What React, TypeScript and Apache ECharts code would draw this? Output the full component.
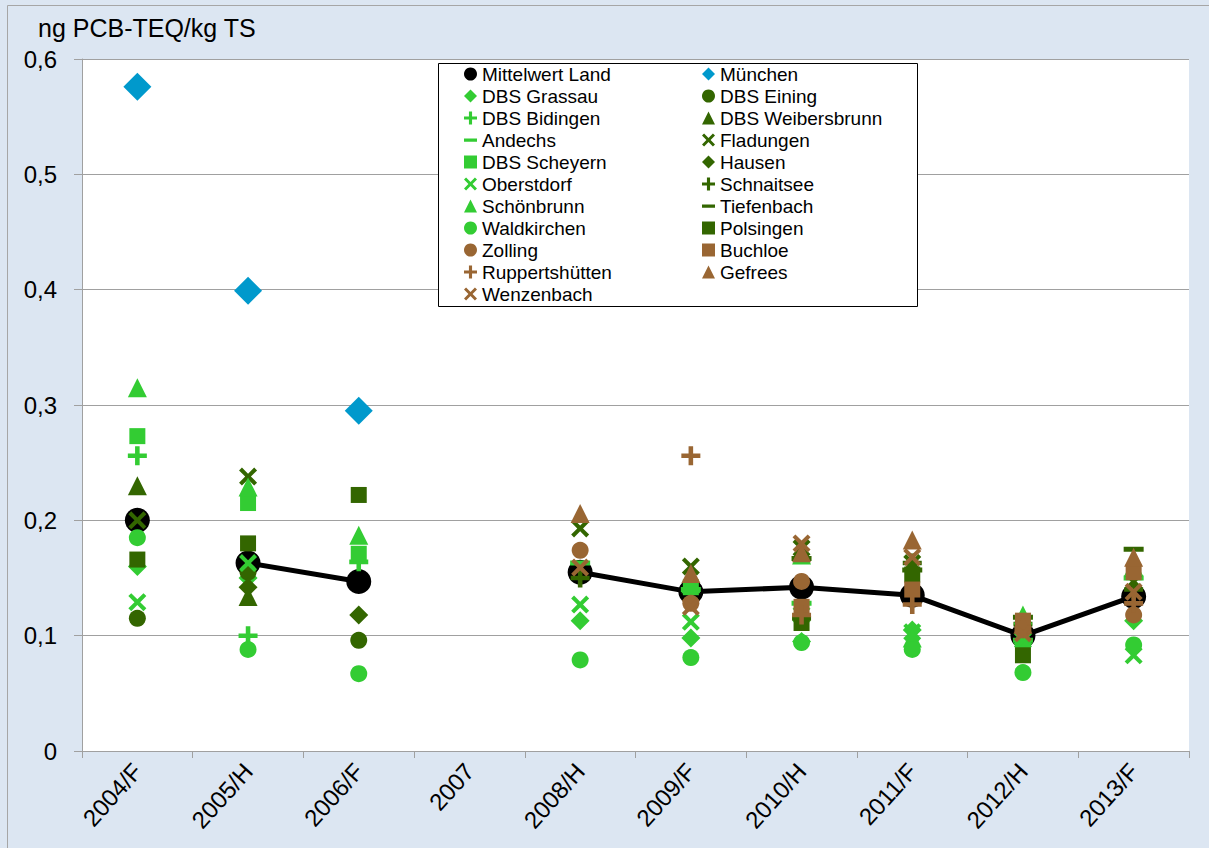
import React, { useEffect, useRef } from "react";
import * as echarts from "echarts";

const n = null;
const categories = ["2004/F", "2005/H", "2006/F", "2007", "2008/H", "2009/F", "2010/H", "2011/F", "2012/H", "2013/F"];
const yTicks = [0, 0.1, 0.2, 0.3, 0.4, 0.5, 0.6];

// values per category (index = category)
const mittelwertLand = [0.200, 0.163, 0.147, n, 0.155, 0.138, 0.142, 0.135, 0.100, 0.134];
const muenchen = [0.576, 0.399, 0.295, n, n, n, n, n, n, n];
const dbsGrassau = [0.160, 0.150, n, n, 0.113, 0.098, 0.095, 0.105, 0.093, 0.113];
const dbsEining = [0.115, 0.155, 0.096, n, n, n, n, n, n, n];
const dbsBidingen = [0.256, 0.100, 0.164, n, n, n, n, n, n, n];
const dbsWeibersbrunn = [0.230, 0.134, n, n, n, n, n, n, n, n];
const andechs = [n, n, n, n, 0.163, 0.140, 0.128, n, 0.096, 0.150];
const fladungen = [0.200, 0.238, n, n, 0.193, 0.160, 0.176, 0.163, n, 0.147];
const dbsScheyern = [0.273, 0.215, 0.171, n, n, 0.142, n, n, n, n];
const hausen = [n, 0.142, 0.118, n, n, n, n, n, n, n];
const oberstdorf = [0.129, 0.163, n, n, 0.127, 0.112, 0.118, 0.103, 0.096, 0.083];
const schnaitsee = [n, n, n, n, 0.150, n, 0.115, 0.163, 0.110, 0.140];
const schoenbrunn = [0.315, 0.229, 0.187, n, n, 0.145, 0.170, 0.098, 0.118, 0.160];
const tiefenbach = [n, n, n, n, n, n, 0.167, 0.157, 0.116, 0.175];
const waldkirchen = [0.185, 0.088, 0.067, n, 0.079, 0.081, 0.094, 0.088, 0.068, 0.092];
const polsingen = [0.166, 0.180, 0.222, n, n, n, 0.111, 0.153, 0.083, n];
const zolling = [n, n, n, n, 0.174, 0.128, 0.147, n, 0.105, 0.118];
const buchloe = [n, n, n, n, n, n, 0.125, 0.140, 0.113, 0.155];
const ruppertshuetten = [n, n, n, n, n, 0.256, 0.118, 0.127, n, 0.128];
const gefrees = [n, n, n, n, 0.206, 0.154, 0.172, 0.183, 0.110, 0.168];
const wenzenbach = [n, n, n, n, 0.159, 0.125, 0.180, 0.168, 0.102, 0.138];

const LIGHT = "#33CC33";
const DARK = "#336600";
const BROWN = "#996633";
const BLUE = "#0099CC";
const BLACK = "#000000";

const PLUS = "path://M3.8,0H6.2V3.8H10V6.2H6.2V10H3.8V6.2H0V3.8H3.8Z";
const CROSS = "path://M0,1.6L1.6,0L5,3.4L8.4,0L10,1.6L6.6,5L10,8.4L8.4,10L5,6.6L1.6,10L0,8.4L3.4,5Z";
const DASH = "path://M0,0L0.01,0ZM0,3.75H10V6.25H0ZM0,10L0.01,10Z";

const stations = [
  { name: "Mittelwert Land", data: mittelwertLand, symbol: "circle", size: 25, color: BLACK },
  { name: "München", data: muenchen, symbol: "diamond", size: 28, color: BLUE },
  { name: "DBS Grassau", data: dbsGrassau, symbol: "diamond", size: 19, color: LIGHT },
  { name: "DBS Eining", data: dbsEining, symbol: "circle", size: 17, color: DARK },
  { name: "DBS Bidingen", data: dbsBidingen, symbol: PLUS, size: 19, color: LIGHT },
  { name: "DBS Weibersbrunn", data: dbsWeibersbrunn, symbol: "triangle", size: 19, color: DARK },
  { name: "Andechs", data: andechs, symbol: DASH, size: 20, color: LIGHT },
  { name: "Fladungen", data: fladungen, symbol: CROSS, size: 18, color: DARK },
  { name: "DBS Scheyern", data: dbsScheyern, symbol: "rect", size: 16, color: LIGHT },
  { name: "Hausen", data: hausen, symbol: "diamond", size: 19, color: DARK },
  { name: "Oberstdorf", data: oberstdorf, symbol: CROSS, size: 18, color: LIGHT },
  { name: "Schnaitsee", data: schnaitsee, symbol: PLUS, size: 19, color: DARK },
  { name: "Schönbrunn", data: schoenbrunn, symbol: "triangle", size: 19, color: LIGHT },
  { name: "Tiefenbach", data: tiefenbach, symbol: DASH, size: 20, color: DARK },
  { name: "Waldkirchen", data: waldkirchen, symbol: "circle", size: 17, color: LIGHT },
  { name: "Polsingen", data: polsingen, symbol: "rect", size: 16, color: DARK },
  { name: "Zolling", data: zolling, symbol: "circle", size: 17, color: BROWN },
  { name: "Buchloe", data: buchloe, symbol: "rect", size: 16, color: BROWN },
  { name: "Ruppertshütten", data: ruppertshuetten, symbol: PLUS, size: 19, color: BROWN },
  { name: "Gefrees", data: gefrees, symbol: "triangle", size: 19, color: BROWN },
  { name: "Wenzenbach", data: wenzenbach, symbol: CROSS, size: 18, color: BROWN },
];

const FONT = "'Liberation Sans', Arial, sans-serif";

export default function App() {
  const ref = useRef<HTMLDivElement>(null);
  useEffect(() => {
    document.body.style.margin = "0";
    const chart = echarts.init(ref.current!, null, { renderer: "svg" });
    const names = stations.map((s) => s.name);
    const legendBase = {
      orient: "vertical",
      top: 63,
      itemWidth: 13,
      itemHeight: 13,
      itemGap: 0,
      padding: 0,
      z: 10,
      selectedMode: false,
      itemStyle: { borderWidth: 0 },
      textStyle: { fontSize: 19, lineHeight: 22, color: "#000", fontFamily: FONT },
    };
    const scatterSeries = stations.map((s) => ({
      type: "scatter",
      name: s.name,
      data: s.data.map((v, i) => (v == null ? null : [i, v])).filter((d) => d !== null),
      symbol: s.symbol,
      symbolSize: s.size,
      itemStyle: { color: s.color, opacity: 1 },
      emphasis: { disabled: true },
      z: 3,
    }));
    const lineData = mittelwertLand.map((v, i) => (i === 0 ? null : v));
    const series: any[] = [
      scatterSeries[0],
      {
        type: "line",
        name: "",
        data: lineData,
        symbol: "none",
        connectNulls: false,
        lineStyle: { color: "#000", width: 5 },
        emphasis: { disabled: true },
        z: 3,
      },
      ...scatterSeries.slice(1),
    ];
    chart.setOption({
      animation: false,
      backgroundColor: "#DCE6F2",
      textStyle: { fontFamily: FONT },
      grid: {
        left: 82,
        top: 59,
        right: 20,
        bottom: 97,
        show: true,
        backgroundColor: "#FFFFFF",
        borderWidth: 0,
      },
      xAxis: {
        type: "category",
        data: categories,
        boundaryGap: true,
        axisLine: { lineStyle: { color: "#A0A0A0", width: 1 } },
        axisTick: { show: true, length: 7, lineStyle: { color: "#A0A0A0" } },
        axisLabel: { rotate: 48, interval: 0, fontSize: 24, color: "#000", fontFamily: FONT, margin: 16 },
        splitLine: { show: false },
      },
      yAxis: {
        type: "value",
        min: yTicks[0],
        max: yTicks[yTicks.length - 1],
        interval: 0.1,
        axisLine: { show: true, lineStyle: { color: "#A0A0A0", width: 1 } },
        axisTick: { show: true, length: 8, lineStyle: { color: "#A0A0A0" } },
        axisLabel: {
          fontSize: 24,
          color: "#000",
          fontFamily: FONT,
          margin: 25,
          formatter: (v: number) => (v === 0 ? "0" : v.toFixed(1).replace(".", ",")),
        },
        splitLine: { lineStyle: { color: "#A0A0A0", width: 1 } },
      },
      legend: [
        { ...legendBase, left: 464, data: names.filter((_, i) => i % 2 === 0) },
        { ...legendBase, left: 702, data: names.filter((_, i) => i % 2 === 1) },
      ],
      graphic: [
        {
          type: "rect",
          z: -10,
          silent: true,
          shape: { x: 7.5, y: 5.5, width: 1400, height: 1000 },
          style: { fill: "none", stroke: "#A6A6A6", lineWidth: 1 },
        },
        {
          type: "rect",
          z: 5,
          silent: true,
          shape: { x: 438.5, y: 63.5, width: 479, height: 243 },
          style: { fill: "#FFFFFF", stroke: "#000000", lineWidth: 1 },
        },
        {
          type: "text",
          left: 38,
          top: 15,
          silent: true,
          style: { text: "ng PCB-TEQ/kg TS", fontSize: 25, fontFamily: FONT, fill: "#000" },
        },
      ],
      series,
    });
    return () => chart.dispose();
  }, []);
  return <div ref={ref} style={{ width: 1209, height: 848 }} />;
}
